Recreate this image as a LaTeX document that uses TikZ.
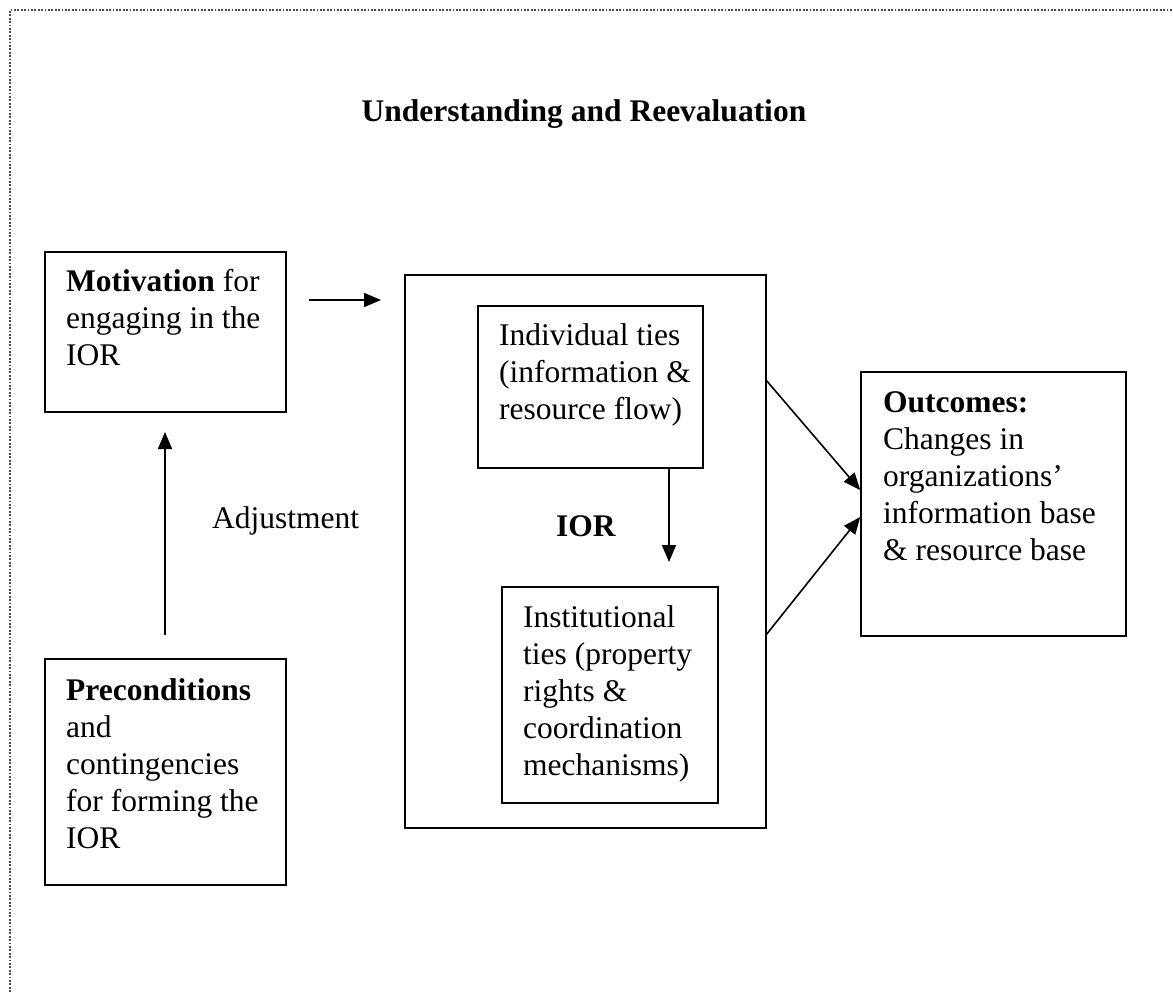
\documentclass[tikz,border=0pt]{standalone}
\usepackage{fontspec}
\setmainfont{Liberation Serif}
\usetikzlibrary{arrows.meta}
\newcommand\bodyfs{\fontsize{31.5}{37}\selectfont}
\begin{document}
\begin{tikzpicture}[x=1pt,y=-1pt,
  box/.style={draw,line width=1.6pt,inner sep=0pt},
  txt/.style={anchor=north west,inner sep=0pt,align=left,font=\bodyfs},
  arr/.style={line width=1.6pt,-{Triangle[length=17pt,width=14pt]}},
  frame/.style={line width=2pt,dash pattern=on 1.8pt off 1.6pt,black!70}]
\useasboundingbox (0,0) rectangle (1173,992);
% partial dotted frame
\draw[frame] (10,992) -- (10,10) -- (1173,10);
% title
\node[anchor=base,inner sep=0pt,font=\bodyfs\bfseries] (title) at (584,121.7) {Understanding and Reevaluation};
% boxes
\node[box,minimum width=241pt,minimum height=160pt] (mot) at (165.5,332) {};
\node[box,minimum width=241pt,minimum height=226pt] (pre) at (165.5,772) {};
\node[box,minimum width=361pt,minimum height=553pt] (ior) at (585.5,551.5) {};
\node[box,minimum width=225pt,minimum height=162pt] (ind) at (590.5,387) {};
\node[box,minimum width=216pt,minimum height=216pt] (inst) at (610,695) {};
\node[box,minimum width=265pt,minimum height=264pt] (out) at (993.5,504) {};
% texts
\node[txt] (motT) at (66,265.8) {\strut\textbf{Motivation} for\\engaging in the\\IOR};
\node[txt] (preT) at (66,674.1) {\strut\textbf{Preconditions}\\and\\contingencies\\for forming the\\IOR};
\node[txt] (indT) at (499,319.1) {\strut Individual ties\\(information \&\\resource flow)};
\node[txt] (instT) at (523,601.8) {\strut Institutional\\ties (property\\rights \&\\coordination\\mechanisms)};
\node[txt] (outT) at (883,386.1) {\strut\textbf{Outcomes:}\\Changes in\\organizations’\\information base\\\& resource base};
\node[anchor=base west,inner sep=0pt,font=\bodyfs\bfseries] (iorT) at (556,536.7) {IOR};
\node[anchor=base west,inner sep=0pt,font=\bodyfs] (adj) at (212,528) {Adjustment};
% connector end points
\coordinate (m1) at (309,300);
\coordinate (m2) at (381,300);
\coordinate (a1) at (165,635);
\coordinate (a2) at (165,432);
\coordinate (d2) at (669,562);
\coordinate (o1) at (766,380);
\coordinate (o2) at (766,635);
% arrows
\draw[arr] (m1) -- (m2);
\draw[arr] (a1) -- (a2);
\draw[arr] (ind.south -| d2) -- (d2);
\draw[arr] (o1) -- (out.west |- 0,490);
\draw[arr] (o2) -- (out.west |- 0,517);
\end{tikzpicture}
\end{document}
